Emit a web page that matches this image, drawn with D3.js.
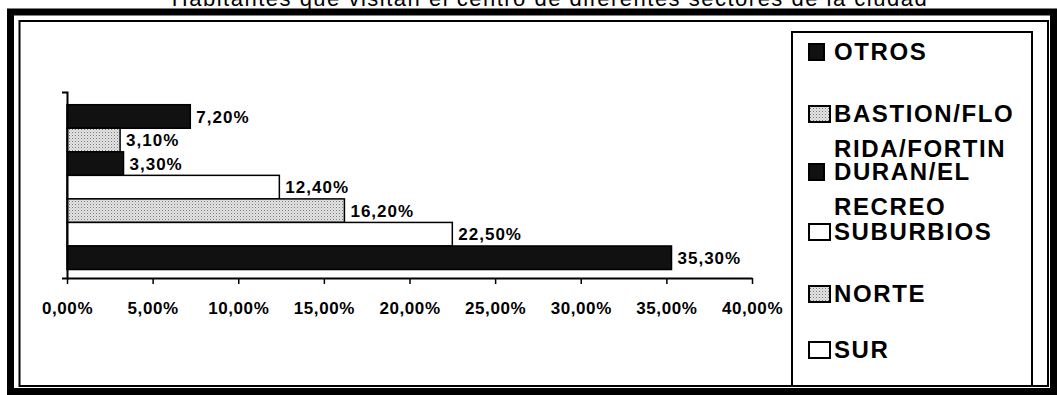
<!DOCTYPE html>
<html>
<head>
<meta charset="utf-8">
<script src="https://cdn.jsdelivr.net/npm/d3@7"></script>
<style>
  html, body { margin: 0; padding: 0; background: #fff; }
  text { font-family: 'Liberation Sans', Arial, sans-serif; }
</style>
</head>
<body>
<svg width="1057" height="395"></svg>
<script>
'use strict'

// data (top bar first)
let categories = ['OTROS', 'BASTION/FLORIDA/FORTIN', 'DURAN/EL RECREO', 'SUBURBIOS', 'NORTE', 'SUR', 'SIN NOMBRE'];
let values = [7.2, 3.1, 3.3, 12.4, 16.2, 22.5, 35.3];
let fills = ['black', 'dots', 'black', 'white', 'dots', 'white', 'black'];
let legendLines = [['OTROS'], ['BASTION/FLO', 'RIDA/FORTIN'], ['DURAN/EL', 'RECREO'], ['SUBURBIOS'], ['NORTE'], ['SUR']];
let xTicks = [0, 5, 10, 15, 20, 25, 30, 35, 40];
let title = 'Habitantes que visitan el centro de diferentes sectores de la ciudad';

let svg = d3.select('svg');

let defs = svg.append('defs');
let pat = defs.append('pattern')
    .attr('id', 'dots')
    .attr('patternUnits', 'userSpaceOnUse')
    .attr('width', 3)
    .attr('height', 3);
pat.append('rect').attr('width', 3).attr('height', 3).attr('fill', '#e4e4e4');
pat.append('rect').attr('x', 0).attr('y', 0).attr('width', 1).attr('height', 1).attr('fill', '#777');
pat.append('rect').attr('x', 1.5).attr('y', 1.5).attr('width', 1).attr('height', 1).attr('fill', '#aaa');

function fillOf(f) {
    if (f === 'dots') return 'url(#dots)';
    if (f === 'black') return '#111';
    return '#fff';
}

function pct(v) {
    return d3.format('.2f')(v).replace('.', ',') + '%';
}

// title, clipped by the top edge like in the scan
svg.append('text')
    .attr('x', 550)
    .attr('y', 6)
    .attr('text-anchor', 'middle')
    .style('font-size', '22px')
    .style('letter-spacing', '1.5px')
    .text(title);

// frames
svg.append('rect')
    .attr('x', 10.5).attr('y', 12)
    .attr('width', 1043).attr('height', 379.5)
    .attr('fill', 'none').attr('stroke', '#000').attr('stroke-width', 7);
svg.append('rect')
    .attr('x', 19.5).attr('y', 21)
    .attr('width', 1028.5).attr('height', 365)
    .attr('fill', 'none').attr('stroke', '#000').attr('stroke-width', 2);

let x = d3.scaleLinear()
    .domain([0, 40])
    .range([67, 752]);

let y = d3.scaleBand()
    .domain(categories)
    .range([92, 278])
    .paddingInner(0)
    .paddingOuter(0.45)
    .align(0.6);

// bars
svg.append('g')
    .selectAll('rect')
    .data(values)
    .enter().append('rect')
    .attr('x', x(0))
    .attr('y', function(d, i) { return y(categories[i]); })
    .attr('width', function(d) { return x(d) - x(0); })
    .attr('height', y.bandwidth())
    .attr('fill', function(d, i) { return fillOf(fills[i]); })
    .attr('stroke', '#000')
    .attr('stroke-width', 1.5);

// value labels
svg.append('g')
    .selectAll('text')
    .data(values)
    .enter().append('text')
    .attr('x', function(d) { return x(d) + 6; })
    .attr('y', function(d, i) { return y(categories[i]) + y.bandwidth() / 2; })
    .attr('dy', '0.36em')
    .style('font-size', '17px')
    .style('font-weight', 'bold')
    .style('letter-spacing', '1px')
    .text(function(d) { return pct(d); });

// x axis
let xAxis = svg.append('g')
    .attr('transform', 'translate(0,' + y.range()[1] + ')')
    .call(d3.axisBottom(x).tickValues(xTicks).tickSize(6).tickSizeOuter(0).tickFormat(pct));
xAxis.select('.domain').attr('stroke-width', 2);
xAxis.selectAll('.tick line').attr('stroke-width', 1.5);
xAxis.selectAll('.tick text')
    .attr('y', 24)
    .attr('dy', '0.71em')
    .attr('fill', '#000')
    .style('font-family', "'Liberation Sans', Arial, sans-serif")
    .style('font-size', '17px')
    .style('font-weight', 'bold')
    .style('letter-spacing', '0.6px');

// y axis
let yAxis = svg.append('g')
    .attr('transform', 'translate(' + x(0) + ',0)')
    .call(d3.axisLeft(d3.scaleLinear().range(y.range())).ticks(0).tickSizeOuter(5));
yAxis.select('.domain').attr('stroke-width', 2);

// legend
let legend = svg.append('g');
legend.append('rect')
    .attr('x', 792).attr('y', 32)
    .attr('width', 240).attr('height', 354)
    .attr('fill', '#fff').attr('stroke', '#000').attr('stroke-width', 2);

let legendBase = [60, 122, 180, 240, 302, 358];

legendLines.forEach(function(lines, i) {
    let base = legendBase[i];
    legend.append('rect')
        .attr('x', 809)
        .attr('y', base - 16)
        .attr('width', fills[i] === 'black' ? 15 : 21)
        .attr('height', 16)
        .attr('fill', fillOf(fills[i]))
        .attr('stroke', '#000')
        .attr('stroke-width', 2);
    lines.forEach(function(t, j) {
        legend.append('text')
            .attr('x', 834)
            .attr('y', base + j * 35)
            .style('font-size', '24px')
            .style('font-weight', 'bold')
            .style('letter-spacing', '1.6px')
            .text(t);
    });
});
</script>
</body>
</html>
